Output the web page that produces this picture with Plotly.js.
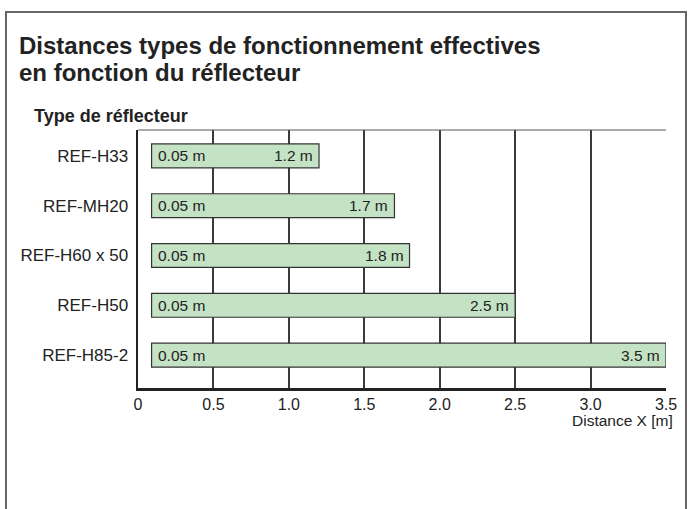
<!DOCTYPE html>
<html>
<head>
<meta charset="utf-8">
<script src="https://cdn.plot.ly/plotly-3.0.1.min.js"></script>
<style>
  html, body { margin: 0; padding: 0; background: #fff; }
  #frame { position: absolute; left: 5px; top: 11px; width: 682px; height: 520px; border: 2px solid #666; box-sizing: border-box; pointer-events: none; }
  #chart { position: absolute; left: 0; top: 0; width: 689px; height: 509px; }
</style>
</head>
<body>
<div id="chart"></div>
<div id="frame"></div>
<script>
// Data
const reflectors = ["REF-H33", "REF-MH20", "REF-H60 x 50", "REF-H50", "REF-H85-2"];
const minDistance = [0.05, 0.05, 0.05, 0.05, 0.05];   // label values (m)
const barStart    = [0.09, 0.09, 0.09, 0.09, 0.09];   // drawn start of the bars
const maxDistance = [1.2, 1.7, 1.8, 2.5, 3.5];        // m
const xTicks = [0, 0.5, 1.0, 1.5, 2.0, 2.5, 3.0, 3.5];
const xTickLabels = ["0", "0.5", "1.0", "1.5", "2.0", "2.5", "3.0", "3.5"];
const titleLines = ["Distances types de fonctionnement effectives", "en fonction du réflecteur"];

const font = "Liberation Sans, Arial, Helvetica, sans-serif";
const textColor = "#222";

const trace = {
  type: "bar",
  orientation: "h",
  y: reflectors,
  x: maxDistance.map((v, i) => v - barStart[i]),
  base: barStart,
  width: 0.48,
  marker: { color: "#c4e2c4", line: { color: "#333", width: 1.2 } },
  hoverinfo: "none"
};

const annotations = [];
reflectors.forEach((r, i) => {
  annotations.push({
    x: barStart[i], y: r, xref: "x", yref: "y",
    text: minDistance[i].toFixed(2) + " m", showarrow: false,
    xanchor: "left", xshift: 4,
    font: { family: font, size: 15.5, color: textColor }
  });
  annotations.push({
    x: maxDistance[i], y: r, xref: "x", yref: "y",
    text: maxDistance[i].toFixed(1) + " m", showarrow: false,
    xanchor: "right", xshift: -4,
    font: { family: font, size: 15.5, color: textColor }
  });
});
annotations.push({
  x: 1, y: 0, xref: "paper", yref: "paper", xanchor: "right", yanchor: "top",
  xshift: 9, yshift: -22,
  text: "Distance X [m]", showarrow: false,
  font: { family: font, size: 15.5, color: textColor }
});
annotations.push({
  x: 0, y: 1, xref: "paper", yref: "paper", xanchor: "left", yanchor: "bottom",
  xshift: -106, yshift: 2,
  text: "<b>Type de réflecteur</b>", showarrow: false,
  font: { family: font, size: 18, color: textColor }
});
// Two-line title, placed relative to the top-left of the plot area
titleLines.forEach((t, i) => {
  annotations.push({
    x: 0, y: 1, xref: "paper", yref: "paper", xanchor: "left", yanchor: "middle",
    xshift: -121, yshift: 85 - 27 * i - (i === 0 ? 0 : 0),
    text: "<b>" + t + "</b>", showarrow: false,
    font: { family: font, size: 24, color: textColor }
  });
});

const layout = {
  width: 689, height: 509,
  margin: { l: 138, r: 23, t: 130, b: 121, pad: 0 },
  paper_bgcolor: "#fff", plot_bgcolor: "#fff",
  showlegend: false,
  xaxis: {
    range: [0, 3.5],
    tickvals: xTicks, ticktext: xTickLabels,
    showgrid: true, gridcolor: "#3a3a3a", gridwidth: 2,
    zeroline: false,
    showline: true, linecolor: "#222", linewidth: 2.5,
    ticks: "", ticklen: 0,
    tickfont: { family: font, size: 16, color: textColor },
    fixedrange: true
  },
  yaxis: {
    type: "category",
    categoryorder: "array", categoryarray: reflectors,
    range: [4.66, -0.52],
    showgrid: false, zeroline: false,
    showline: true, linecolor: "#222", linewidth: 2.5,
    ticks: "", ticklen: 0,
    ticklabelstandoff: 4,
    tickfont: { family: font, size: 17, color: textColor },
    fixedrange: true
  },
  shapes: [{
    type: "line", xref: "paper", yref: "paper",
    x0: 0, x1: 1, y0: 1, y1: 1,
    line: { color: "#555", width: 1 }
  }],
  annotations: annotations
};

Plotly.newPlot("chart", [trace], layout, { displayModeBar: false, staticPlot: true });
</script>
</body>
</html>
